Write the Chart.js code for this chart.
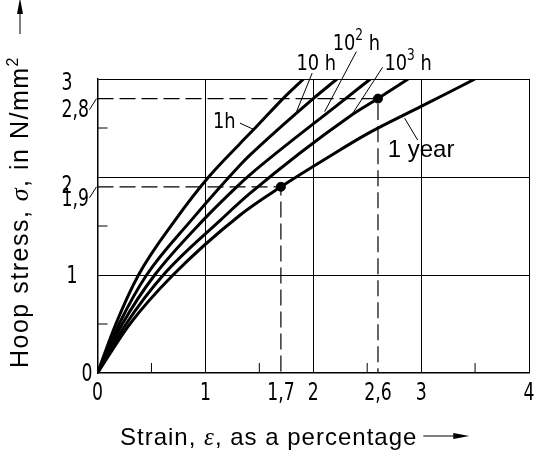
<!DOCTYPE html>
<html>
<head>
<meta charset="utf-8">
<script src="https://cdn.jsdelivr.net/npm/chart.js@4.4.1/dist/chart.umd.min.js"></script>
<style>
  html, body { margin: 0; padding: 0; background: #fff; }
  #wrap { width: 538px; height: 450px; }
</style>
</head>
<body>
<div id="wrap"><canvas id="chart"></canvas></div>
<script>
// creep curves, strain in % against hoop stress in N/mm2
const strain1h = [0, 0.17, 0.38, 0.72, 1.03, 1.32, 1.47, 1.72, 1.91];
const stress1h = [0, 0.5, 1.0, 1.56, 2.0, 2.34, 2.51, 2.8, 3.0];
const strain10h = [0, 0.20, 0.455, 0.87, 1.32, 1.41, 2.0, 2.22];
const stress10h = [0, 0.5, 1.0, 1.56, 2.12, 2.22, 2.8, 3.0];
const strain100h = [0, 0.23, 0.53, 0.98, 1.32, 1.41, 2.3, 2.53];
const stress100h = [0, 0.5, 1.0, 1.56, 1.93, 2.02, 2.8, 3.0];
const strain1000h = [0, 0.265, 0.61, 1.15, 1.41, 2.34, 2.6, 2.88];
const stress1000h = [0, 0.5, 1.0, 1.57, 1.83, 2.62, 2.8, 3.0];
const strain1y = [0, 0.30, 0.70, 1.32, 1.7, 2.15, 2.5, 3.0, 3.5];
const stress1y = [0, 0.5, 1.0, 1.61, 1.9, 2.21, 2.44, 2.72, 3.0];

// read-off points (dashed guides)
const markStrain = [1.7, 2.6];
const markStress = [1.9, 2.8];

const xTicks = [0, 1, 1.7, 2, 2.6, 3, 4];
const yTicks = [0, 1, 1.9, 2, 2.8, 3];
const gridX = [1, 2, 3, 4];
const gridY = [1, 2, 3];
const minorX = [0.5, 1.5, 2.5, 3.5];
const minorY = [0.5, 1.5, 2.5];

const pts = (xs, ys) => xs.map((v, i) => ({ x: v, y: ys[i] }));
const fmt = v => String(v).replace('.', ',');

const NARROW = "'Liberation Sans Narrow', 'DejaVu Sans Condensed', sans-serif";
const SANS = "'Liberation Sans', Arial, sans-serif";

function curve(xs, ys) {
  return {
    data: pts(xs, ys),
    borderColor: '#000',
    borderWidth: 3,
    pointRadius: 0,
    fill: false,
    cubicInterpolationMode: 'monotone'
  };
}

const guides = markStrain.map((e, i) => ({
  data: [{ x: 0, y: markStress[i] }, { x: e, y: markStress[i] }, { x: e, y: 0 }],
  borderColor: '#000',
  borderWidth: 1.2,
  borderDash: [16, 6],
  pointRadius: 0,
  tension: 0,
  fill: false
}));

const dots = {
  data: pts(markStrain, markStress),
  showLine: false,
  pointRadius: 4.5,
  pointBackgroundColor: '#000',
  pointBorderColor: '#000'
};

function runs(ctx, x, y, parts) {
  parts.forEach(([t, f, dy]) => {
    ctx.font = f;
    ctx.fillText(t, x, y + (dy || 0));
    x += ctx.measureText(t).width;
  });
  return x;
}

function squeezed(ctx, x, y, parts, sx) {
  ctx.save();
  ctx.translate(x, y);
  ctx.scale(sx, 1);
  runs(ctx, 0, 0, parts);
  ctx.restore();
}

function seg(ctx, x1, y1, x2, y2) {
  ctx.beginPath();
  ctx.moveTo(x1, y1);
  ctx.lineTo(x2, y2);
  ctx.stroke();
}

const decor = {
  id: 'decor',
  afterDraw(chart) {
    const ctx = chart.ctx, a = chart.chartArea;
    const px = v => chart.scales.x.getPixelForValue(v);
    const py = v => chart.scales.y.getPixelForValue(v);
    ctx.save();
    ctx.fillStyle = '#000';
    ctx.strokeStyle = '#000';
    ctx.textAlign = 'left';
    ctx.textBaseline = 'alphabetic';

    // short inside ticks
    ctx.lineWidth = 1;
    minorX.forEach(v => seg(ctx, px(v), a.bottom, px(v), a.bottom - 10));
    minorY.forEach(v => seg(ctx, a.left, py(v), a.left + 10, py(v)));

    // x tick labels
    const T = '24px ' + NARROW;
    xTicks.forEach(v => {
      ctx.save();
      ctx.translate(px(v), a.bottom + 27);
      ctx.scale(0.8, 1);
      ctx.font = T;
      ctx.textAlign = 'center';
      ctx.fillText(fmt(v), 0, 0);
      ctx.restore();
    });

    // y tick labels, some pushed down so they do not collide
    const drop = { 3: 11, 2.8: 18, 2: 15.5, 1.9: 19 };
    yTicks.forEach(v => {
      ctx.save();
      const y = py(v) + (drop[v] !== undefined ? drop[v] : 8);
      if (v === 0) {
        ctx.translate(a.left - 5, y);
        ctx.textAlign = 'right';
      } else if (v === 1) {
        ctx.translate(a.left - 31, y);
      } else {
        ctx.translate(a.left - 36, y);
      }
      ctx.scale(0.8, 1);
      ctx.font = T;
      ctx.fillText(fmt(v), 0, 0);
      ctx.restore();
    });
    ctx.lineWidth = 1;
    markStress.forEach(s => seg(ctx, a.left - 8, py(s) + 11, a.left - 1, py(s)));

    // curve labels with leaders
    const L = '22px ' + NARROW, S = '15px ' + NARROW;
    squeezed(ctx, px(1.07), py(2.5), [['1h', L]], 0.9);
    seg(ctx, px(1.32), py(2.55), px(1.458), py(2.48));
    squeezed(ctx, px(1.845), py(3.09), [['10 h', L]], 0.9);
    seg(ctx, px(1.99), py(3.06), px(1.845), py(2.667));
    squeezed(ctx, px(2.18), py(3.3), [['10', L], ['2', S, -10], [' h', L]], 0.9);
    seg(ctx, px(2.4), py(3.28), px(2.106), py(2.667));
    squeezed(ctx, px(2.66), py(3.09), [['10', L], ['3', S, -10], [' h', L]], 0.9);
    seg(ctx, px(2.643), py(3.12), px(2.354), py(2.63));
    ctx.font = '24px ' + SANS;
    ctx.fillText('1 year', px(2.69), py(2.2));
    seg(ctx, px(2.968), py(2.377), px(2.847), py(2.6));

    // x axis title
    const R = '24px ' + SANS;
    const SI = "italic 25px 'Liberation Serif', 'DejaVu Serif', serif";
    ctx.letterSpacing = '1px';
    let end = runs(ctx, 120, 445, [['Strain, ', R], ['\u03b5', SI], [', as a percentage', R]]);
    ctx.lineWidth = 1;
    seg(ctx, end + 6, 436, end + 40, 436);
    ctx.beginPath();
    ctx.moveTo(end + 52, 436);
    ctx.lineTo(end + 36, 433);
    ctx.lineTo(end + 36, 439);
    ctx.closePath();
    ctx.fill();

    // y axis title
    const RY = '25px ' + SANS, RY2 = '16px ' + SANS;
    const SIY = "italic 26px 'Liberation Serif', 'DejaVu Serif', serif";
    ctx.letterSpacing = '1.5px';
    ctx.save();
    ctx.translate(28, 368);
    ctx.rotate(-Math.PI / 2);
    end = runs(ctx, 0, 0, [['Hoop stress, ', RY], ['\u03c3', SIY], [', in N/mm', RY], ['2', RY2, -10]]);
    seg(ctx, end + 22, -8, end + 46, -8);
    ctx.beginPath();
    ctx.moveTo(end + 58, -8);
    ctx.lineTo(end + 42, -11);
    ctx.lineTo(end + 42, -5);
    ctx.closePath();
    ctx.fill();
    ctx.restore();

    ctx.restore();
  }
};

new Chart(document.getElementById('chart'), {
  type: 'line',
  data: {
    datasets: [
      curve(strain1h, stress1h),
      curve(strain10h, stress10h),
      curve(strain100h, stress100h),
      curve(strain1000h, stress1000h),
      curve(strain1y, stress1y),
      ...guides,
      dots
    ]
  },
  options: {
    responsive: true,
    maintainAspectRatio: false,
    animation: false,
    layout: { padding: { left: 0, top: 79, right: 9, bottom: 37 } },
    plugins: { legend: { display: false }, tooltip: { enabled: false } },
    scales: {
      x: {
        type: 'linear', min: 0, max: 4,
        afterBuildTicks: s => { s.ticks = xTicks.map(v => ({ value: v })); },
        afterFit: s => { s.height = 40; },
        ticks: { display: false },
        grid: {
          drawTicks: false,
          lineWidth: 1,
          color: c => (c.tick && gridX.includes(c.tick.value)) ? '#000' : 'rgba(0,0,0,0)'
        },
        border: { color: '#000', width: 1.5 }
      },
      y: {
        type: 'linear', min: 0, max: 3,
        afterBuildTicks: s => { s.ticks = yTicks.map(v => ({ value: v })); },
        afterFit: s => { s.width = 97.5; },
        ticks: { display: false },
        grid: {
          drawTicks: false,
          lineWidth: 1,
          color: c => (c.tick && gridY.includes(c.tick.value)) ? '#000' : 'rgba(0,0,0,0)'
        },
        border: { color: '#000', width: 1.5 }
      }
    }
  },
  plugins: [decor]
});
</script>
</body>
</html>
